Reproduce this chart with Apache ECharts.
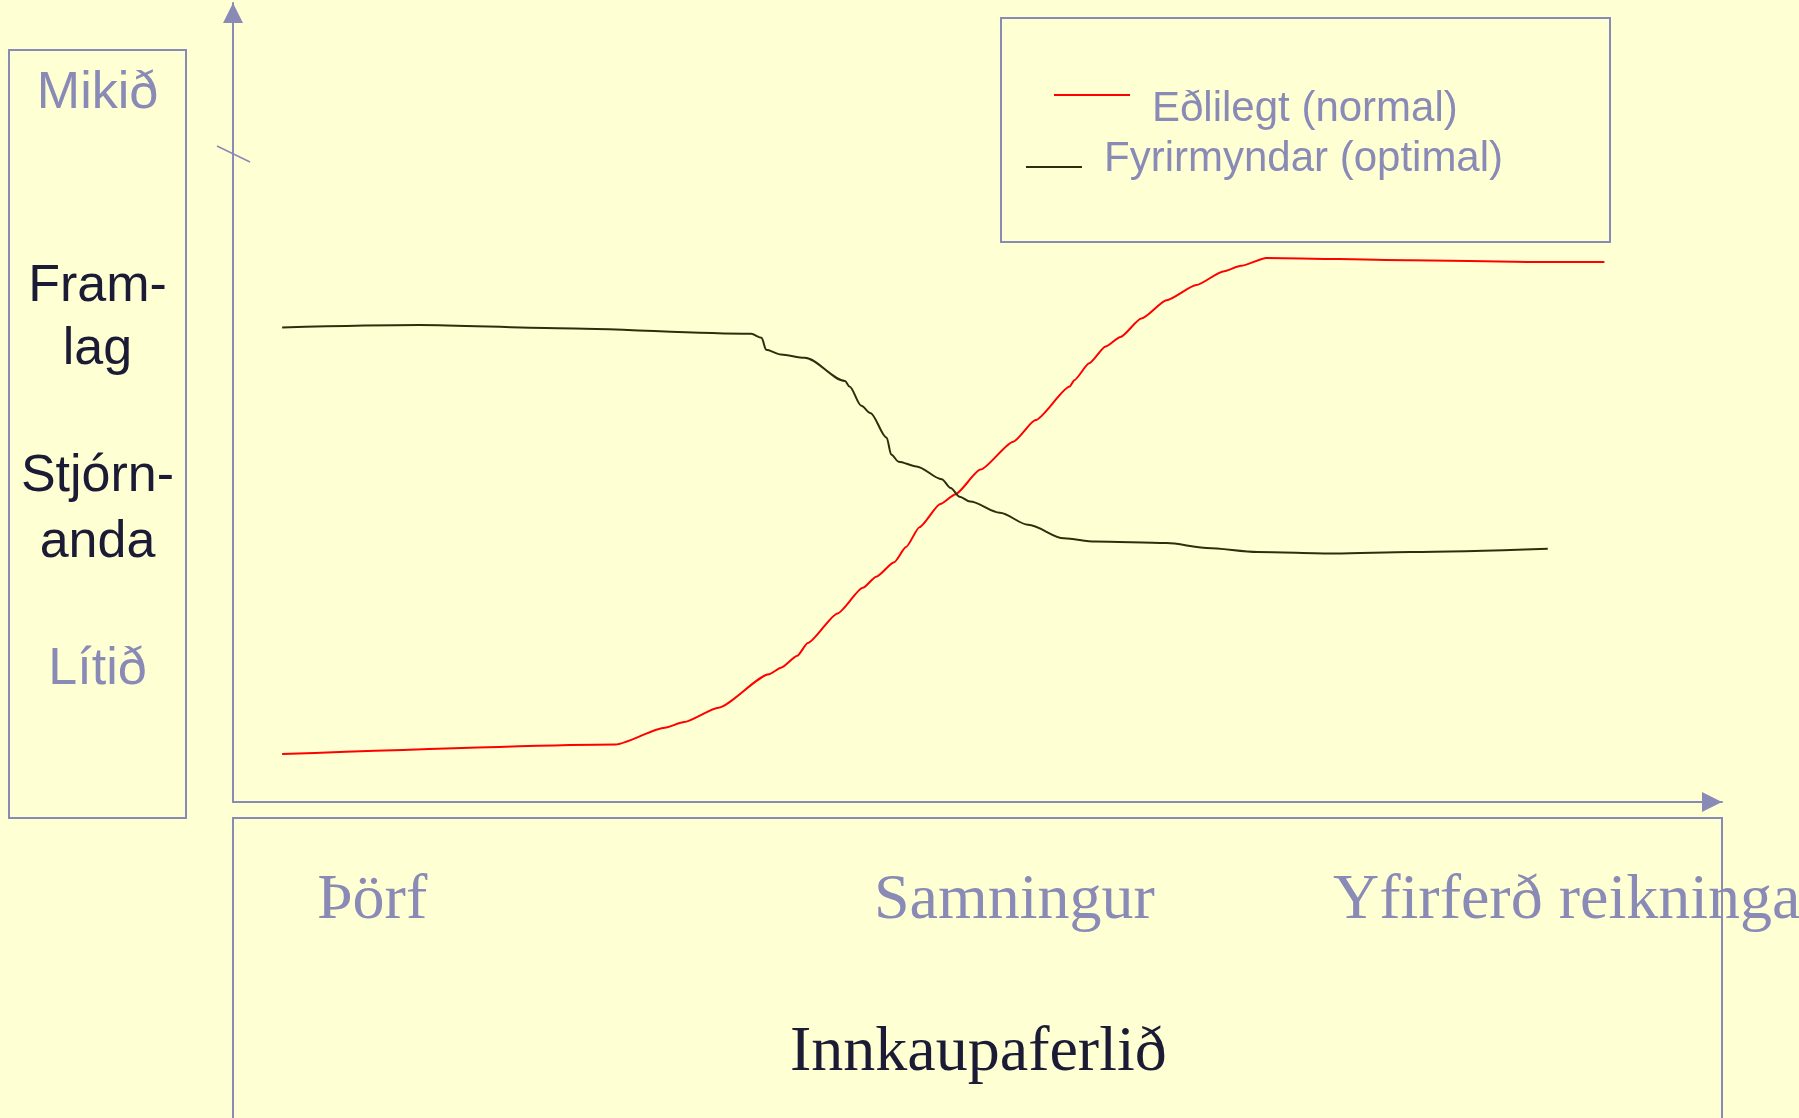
<!DOCTYPE html>
<html>
<head>
<meta charset="utf-8">
<script src="https://cdn.jsdelivr.net/npm/echarts@6/dist/echarts.min.js"></script>
<style>
  html, body { margin: 0; padding: 0; background: #FFFFD4; }
  #chart { width: 1799px; height: 1118px; }
</style>
</head>
<body>
<div id="chart"></div>
<script>
// ---- data (x: position along the purchasing process 0-100, y: level of management contribution 0-100) ----
const seriesNames = ['Eðlilegt (normal)', 'Fyrirmyndar (optimal)'];
const normalData = [
  [3.3, 6.0], [25.7, 7.2], [29.0, 9.3], [30.3, 10.0], [32.6, 11.8], [36.0, 16.0], [36.8, 16.8],
  [37.9, 18.3], [38.6, 19.9], [40.6, 23.6], [42.3, 26.8], [43.2, 28.2], [44.4, 30.0], [45.2, 31.9],
  [46.1, 34.4], [47.5, 37.3], [48.5, 38.5], [50.2, 41.6], [52.4, 45.1], [53.9, 47.8], [56.2, 52.0],
  [56.5, 52.8], [57.5, 54.9], [58.6, 57.0], [59.6, 58.2], [61.0, 60.5], [62.7, 62.8], [64.7, 64.7],
  [66.5, 66.4], [67.7, 67.1], [69.4, 68.1], [79.1, 67.8], [87.0, 67.6], [92.1, 67.6]
];
const optimalData = [
  [3.3, 59.4], [12.5, 59.7], [21.8, 59.3], [34.8, 58.6], [35.5, 58.1], [35.8, 56.6], [36.8, 56.0],
  [38.4, 55.6], [41.1, 52.7], [41.4, 52.0], [42.2, 49.6], [42.8, 48.7], [43.9, 45.6], [44.2, 43.5],
  [44.7, 42.6], [45.9, 42.0], [47.6, 40.4], [48.2, 39.3], [48.8, 38.2], [49.5, 37.6], [51.5, 36.2],
  [53.4, 34.7], [55.8, 33.0], [57.9, 32.6], [62.7, 32.4], [65.4, 31.8], [68.8, 31.3], [74.0, 31.1],
  [79.1, 31.3], [88.3, 31.7]
];
const stageLabels = ['Þörf', 'Samningur', 'Yfirferð reikninga'];
const xAxisTitle = 'Innkaupaferlið';
const levelHigh = 'Mikið';
const levelLow = 'Lítið';
const yAxisTitleLines = ['Fram-', 'lag', 'Stjórn-', 'anda'];

// ---- styling ----
const BG = '#FFFFD4';
const LAV = '#8A8AB6';
const DARK = '#1B1B35';
const RED = '#FF0000';
const OLIVE = '#2E2E0C';
const SANS = '"Liberation Sans", Arial, sans-serif';
const SERIF = '"Liberation Serif", "Times New Roman", serif';

const chart = echarts.init(document.getElementById('chart'), null, { renderer: 'canvas' });

function txt(text, x, y, opts) {
  return {
    type: 'text', silent: true, z: 5,
    style: Object.assign({
      text: text, x: x, y: y, fill: LAV, font: '52px ' + SANS,
      align: 'center', verticalAlign: 'middle'
    }, opts || {})
  };
}

const stageX = [317, 874, 1333];
const graphics = [
  { type: 'rect', silent: true, z: 1, shape: { x: 9, y: 50, width: 177, height: 768 },
    style: { fill: 'none', stroke: LAV, lineWidth: 2 } },
  { type: 'rect', silent: true, z: 1, shape: { x: 1001, y: 18, width: 609, height: 224 },
    style: { fill: 'none', stroke: LAV, lineWidth: 2 } },
  { type: 'rect', silent: true, z: 1, shape: { x: 233, y: 818, width: 1489, height: 400 },
    style: { fill: 'none', stroke: LAV, lineWidth: 2 } },
  { type: 'line', silent: true, z: 1, shape: { x1: 217, y1: 146, x2: 250, y2: 162 },
    style: { stroke: LAV, lineWidth: 1.5 } },
  txt(levelHigh, 97.5, 93.5),
  txt(yAxisTitleLines[0], 97.5, 286.5, { fill: DARK }),
  txt(yAxisTitleLines[1], 97.5, 350, { fill: DARK }),
  txt(yAxisTitleLines[2], 97.5, 477, { fill: DARK }),
  txt(yAxisTitleLines[3], 97.5, 543, { fill: DARK }),
  txt(levelLow, 97.5, 669.5),
  txt(xAxisTitle, 790, 1053.5, { fill: DARK, font: '64px ' + SERIF, align: 'left' })
];
stageLabels.forEach(function (s, i) {
  graphics.push(txt(s, stageX[i], 901, { font: '64px ' + SERIF, align: 'left' }));
});

function axisCfg() {
  return {
    type: 'value', min: 0, max: 100,
    axisLine: {
      show: true, onZero: false,
      symbol: ['none', 'triangle'], symbolSize: [20, 20], symbolOffset: [0, -10],
      lineStyle: { color: LAV, width: 2 }
    },
    axisTick: { show: false },
    axisLabel: { show: false },
    splitLine: { show: false }
  };
}

// legend icon: a thin bar placed above (red) or below (black) the middle of a 30px-high icon box
function legendCfg(name, left, top, width, icon, color) {
  return {
    data: [name], left: left, top: top, padding: 0, selectedMode: false,
    itemWidth: width, itemHeight: 30, icon: icon,
    itemStyle: { color: color, borderWidth: 0 },
    textStyle: { color: LAV, fontSize: 42, fontFamily: SANS, padding: [0, 0, 0, 17] }
  };
}

chart.setOption({
  backgroundColor: BG,
  animation: false,
  grid: { left: 233, right: 77, top: 3, bottom: 316 },
  xAxis: axisCfg(),
  yAxis: axisCfg(),
  legend: [
    legendCfg(seriesNames[0], 1054, 88, 76, 'path://M0,0H76V2H0Z M0,30H76V30H0Z', RED),
    legendCfg(seriesNames[1], 1026, 138, 56, 'path://M0,0H56V0H0Z M0,22H56V24H0Z M0,30H56V30H0Z', OLIVE)
  ],
  graphic: graphics,
  series: [
    { name: seriesNames[0], type: 'line', data: normalData, showSymbol: false, symbol: 'none',
      smooth: 0.2, smoothMonotone: 'x', lineStyle: { color: RED, width: 2 }, itemStyle: { color: RED }, z: 3 },
    { name: seriesNames[1], type: 'line', data: optimalData, showSymbol: false, symbol: 'none',
      smooth: 0.3, smoothMonotone: 'x', lineStyle: { color: OLIVE, width: 2 }, itemStyle: { color: OLIVE }, z: 3 }
  ]
});
</script>
</body>
</html>
